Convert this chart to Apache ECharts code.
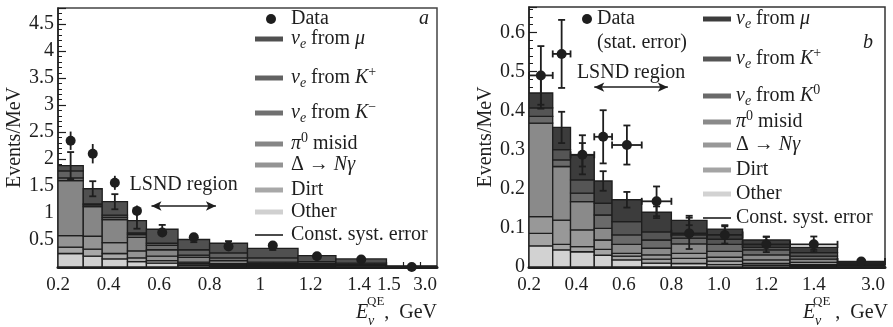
<!DOCTYPE html>
<html>
<head>
<meta charset="utf-8">
<script src="https://cdn.jsdelivr.net/npm/echarts@6/dist/echarts.min.js"></script>
<style>
  html, body { margin: 0; padding: 0; background: #fff; }
  #main { width: 893px; height: 327px; }
</style>
</head>
<body>
<div id="main"></div>
<script>
// bin edges, GeV
const edgesA = [0.2, 0.3, 0.375, 0.475, 0.55, 0.675, 0.8, 0.95, 1.15, 1.3, 1.5, 3.0]
const edgesB = [0.2, 0.3, 0.375, 0.475, 0.55, 0.675, 0.8, 0.95, 1.1, 1.3, 1.5, 3.0]
// x tick labels, GeV
const xLabelsA = [0.2, 0.4, 0.6, 0.8, 1.0, 1.2, 1.4, 1.5, 3.0]
const xLabelsB = [0.2, 0.4, 0.6, 0.8, 1.0, 1.2, 1.4, 3.0]

// panel a, events/MeV per component (bottom -> top)
const otherA = [0.25, 0.20, 0.15, 0.10, 0.07, 0.03, 0.02, 0.01, 0.005, 0.004, 0.001]
const dirtA = [0.12, 0.13, 0.10, 0.07, 0.05, 0.03, 0.02, 0.01, 0.005, 0.004, 0.001]
const deltaA = [0.21, 0.24, 0.20, 0.13, 0.08, 0.03, 0.02, 0.015, 0.01, 0.007, 0.001]
const pi0A = [1.02, 0.55, 0.43, 0.25, 0.12, 0.09, 0.06, 0.025, 0.02, 0.015, 0.002]
const kMinusA = [0.05, 0.03, 0.04, 0.05, 0.08, 0.04, 0.05, 0.03, 0.02, 0.015, 0.003]
const kPlusA = [0.13, 0.02, 0.04, 0.03, 0.04, 0.10, 0.09, 0.08, 0.04, 0.025, 0.004]
const muA = [0.10, 0.28, 0.25, 0.23, 0.26, 0.19, 0.18, 0.175, 0.11, 0.08, 0.008]
const systA = [0.25, 0.14, 0.14, 0.15, 0.08, 0.05, 0.04, 0.03, 0.03, 0.02, 0.01]
const dataA = [2.34, 2.10, 1.56, 1.04, 0.64, 0.55, 0.38, 0.40, 0.20, 0.14, 0.0]
const dataErrA = [0.17, 0.18, 0.13, 0.10, 0.07, 0.05, 0.04, 0.04, 0.03, 0.03, 0.02]

// panel b
const otherB = [0.054, 0.044, 0.039, 0.030, 0.018, 0.010, 0.009, 0.006, 0.004, 0.003, 0.001]
const dirtB = [0.032, 0.014, 0.013, 0.015, 0.010, 0.010, 0.013, 0.009, 0.005, 0.003, 0.001]
const deltaB = [0.043, 0.062, 0.043, 0.024, 0.007, 0.011, 0.013, 0.010, 0.009, 0.006, 0.001]
const pi0B = [0.239, 0.137, 0.072, 0.030, 0.023, 0.017, 0.024, 0.015, 0.013, 0.008, 0.001]
const k0B = [0.017, 0.017, 0.022, 0.034, 0.024, 0.021, 0.015, 0.018, 0.013, 0.008, 0.002]
const kPlusB = [0.022, 0.026, 0.034, 0.030, 0.034, 0.021, 0.008, 0.013, 0.006, 0.009, 0.004]
const muB = [0.038, 0.057, 0.064, 0.057, 0.056, 0.050, 0.037, 0.026, 0.019, 0.013, 0.004]
const systB = [0.04, 0.04, 0.03, 0.025, 0.02, 0.015, 0.012, 0.01, 0.008, 0.006, 0.003]
const dataB = [0.490, 0.545, 0.287, 0.333, 0.312, 0.168, 0.086, 0.082, 0.058, 0.058, 0.014]
const dataErrB = [0.075, 0.087, 0.05, 0.068, 0.05, 0.038, 0.04, 0.022, 0.02, 0.02, 0.005]

// LSND region arrows [from, to, height]
const lsndA = [0.57, 0.825, 1.13]
const lsndB = [0.475, 0.785, 0.46]

const serif = '"Liberation Serif", "DejaVu Serif", serif'
const ink = '#1e1e1e'

// 0.2-1.5 GeV linear, 1.5-3.0 squeezed into the width of 0.2
const disp = (e) => e <= 1.5 ? e : 1.5 + (e - 1.5) / 7.5
const centers = (edges) => edges.slice(1).map((e, i) => (disp(edges[i]) + disp(e)) / 2)

const tickVals = []
for (let k = 5; k <= 30; k++) tickVals.push(k * 0.05)
tickVals.push(disp(2.0), disp(2.5))

function stack(edges, layers) {
  const base = layers[0].map(() => 0)
  return layers.map(vals => vals.map((v, i) => {
    const y0 = base[i]
    base[i] += v
    return [disp(edges[i]), disp(edges[i + 1]), y0, base[i]]
  }))
}

function renderBand(params, api) {
  const p0 = api.coord([api.value(0), api.value(3)])
  const p1 = api.coord([api.value(1), api.value(2)])
  return {
    type: 'rect',
    shape: { x: p0[0], y: p0[1], width: p1[0] - p0[0], height: p1[1] - p0[1] },
    style: { fill: api.visual('color'), stroke: ink, lineWidth: 1.3 }
  }
}

function errRenderer(caps, horiz) {
  return function (params, api) {
    const x = api.value(0), y = api.value(1), e = api.value(2)
    const top = api.coord([x, y + e])
    const bot = api.coord([x, y - e])
    const st = { stroke: ink, lineWidth: 1.8 }
    const c = 3.5
    const kids = [{ type: 'line', shape: { x1: top[0], y1: top[1], x2: bot[0], y2: bot[1] }, style: st }]
    if (caps) {
      kids.push({ type: 'line', shape: { x1: top[0] - c, y1: top[1], x2: top[0] + c, y2: top[1] }, style: st })
      kids.push({ type: 'line', shape: { x1: bot[0] - c, y1: bot[1], x2: bot[0] + c, y2: bot[1] }, style: st })
    }
    if (horiz) {
      const l = api.coord([api.value(3), y])
      const r = api.coord([api.value(4), y])
      kids.push({ type: 'line', shape: { x1: l[0], y1: l[1], x2: r[0], y2: r[1] }, style: st })
      kids.push({ type: 'line', shape: { x1: l[0], y1: l[1] - c, x2: l[0], y2: l[1] + c }, style: st })
      kids.push({ type: 'line', shape: { x1: r[0], y1: r[1] - c, x2: r[0], y2: r[1] + c }, style: st })
    }
    return { type: 'group', children: kids }
  }
}

function panelSeries(p, idx, edges, layers, colors, names, data, dataErr, syst, lsnd, horiz) {
  const bands = stack(edges, layers)
  const mid = centers(edges)
  const totals = bands[bands.length - 1].map(b => b[3])
  const out = bands.map((items, k) => ({
    type: 'custom', name: p + '-' + names[k], xAxisIndex: idx, yAxisIndex: idx,
    itemStyle: { color: colors[k] }, renderItem: renderBand,
    encode: { x: [0, 1], y: [2, 3] }, data: items, clip: true, silent: true
  }))
  out.push({
    type: 'custom', name: p + '-syst', xAxisIndex: idx, yAxisIndex: idx,
    itemStyle: { color: ink }, renderItem: errRenderer(true, false),
    encode: { x: 0, y: 1 }, data: mid.map((x, i) => [x, totals[i], syst[i]]), silent: true
  })
  out.push({
    type: 'custom', name: p + '-dataerr', xAxisIndex: idx, yAxisIndex: idx,
    renderItem: errRenderer(horiz, horiz), encode: { x: 0, y: 1 },
    data: mid.map((x, i) => [x, data[i], dataErr[i], disp(edges[i]), disp(edges[i + 1])]), silent: true
  })
  out.push({
    type: 'scatter', name: p + '-data', xAxisIndex: idx, yAxisIndex: idx,
    symbolSize: 10, itemStyle: { color: ink, opacity: 1 }, silent: true,
    data: mid.map((x, i) => [x, data[i]]),
    markLine: {
      silent: true, symbol: ['arrow', 'arrow'], symbolSize: [7, 10],
      lineStyle: { color: ink, width: 1.5, type: 'solid' },
      label: {
        show: true, position: 'insideMiddleTop', distance: p === 'a' ? 11 : 4,
        formatter: 'LSND region', color: ink, fontFamily: serif, fontSize: 20
      },
      data: [[{ coord: [lsnd[0], lsnd[2]] }, { coord: [lsnd[1], lsnd[2]] }]]
    }
  })
  return out
}

const layerNames = ['other', 'dirt', 'delta', 'pi0', 'k2', 'kplus', 'mu']
const colorsA = ['#d0d0d0', '#a8a8a8', '#949494', '#868686', '#707070', '#626262', '#505050']
const colorsB = ['#d2d2d2', '#a4a4a4', '#989898', '#8a8a8a', '#6a6a6a', '#555555', '#3c3c3c']

const series = [].concat(
  panelSeries('a', 0, edgesA, [otherA, dirtA, deltaA, pi0A, kMinusA, kPlusA, muA], colorsA, layerNames,
    dataA, dataErrA, systA, lsndA, false),
  panelSeries('b', 1, edgesB, [otherB, dirtB, deltaB, pi0B, k0B, kPlusB, muB], colorsB, layerNames,
    dataB, dataErrB, systB, lsndB, true)
)

const legendLabels = {
  data: 'Data',
  mu: '{i|ν}{sub|e} from {i|μ}',
  kplus: '{i|ν}{sub|e} from {i|K}{sup|+}',
  'a-k2': '{i|ν}{sub|e} from {i|K}{sup|−}',
  'b-k2': '{i|ν}{sub|e} from {i|K}{sup|0}',
  pi0: '{i|π}{sup|0} misid',
  delta: 'Δ → {i|Nγ}',
  dirt: 'Dirt',
  other: 'Other',
  syst: 'Const. syst. error'
}
const legendFormatter = (name) => legendLabels[name] || legendLabels[name.slice(2)]
const richText = {
  i: { fontFamily: serif, fontSize: 20, fontStyle: 'italic', color: ink },
  sub: { fontFamily: serif, fontSize: 14, fontStyle: 'italic', padding: [10, 0, 0, 0], color: ink },
  sup: { fontFamily: serif, fontSize: 14, padding: [0, 0, 12, 0], color: ink }
}
const swatch = 'path://M0,0h28v5h-28z'
const thin = 'path://M0,0h28v1.6h-28z'

// one legend box per entry so each row sits where the reference has it
function legendItem(name, left, cy, pad) {
  const isData = name.endsWith('data')
  return {
    left: left, top: cy - 9, orient: 'vertical', padding: 0,
    itemWidth: isData ? 10 : 28, itemHeight: 30, selectedMode: false,
    formatter: legendFormatter,
    textStyle: { fontFamily: serif, fontSize: 20, color: ink, padding: [0, 0, 0, pad], rich: richText },
    data: [{ name: name, icon: isData ? 'circle' : (name.endsWith('syst') ? thin : swatch) }]
  }
}

const xRich = {
  l: { fontFamily: serif, fontSize: 19, color: ink, padding: [0, 4, 0, 0] },
  r: { fontFamily: serif, fontSize: 19, color: ink, padding: [0, 0, 0, 5] }
}

function xAxis(idx, labels, fmt) {
  return {
    type: 'value', gridIndex: idx, min: 0.2, max: 1.7,
    axisLine: { lineStyle: { color: ink, width: 3 } },
    axisTick: { inside: true, length: 5, customValues: tickVals, lineStyle: { color: ink, width: 1.2 } },
    axisLabel: {
      customValues: labels.map(disp), margin: 9, alignMaxLabel: 'right',
      fontFamily: serif, fontSize: 19, color: ink, rich: xRich,
      formatter: (v) => fmt(labels.find(l => Math.abs(disp(l) - v) < 1e-6), labels)
    },
    splitLine: { show: false }
  }
}

function yAxis(idx, max, step, gap, showMin) {
  return {
    type: 'value', gridIndex: idx, min: 0, max: max, interval: step,
    name: 'Events/MeV', nameLocation: 'middle', nameGap: gap,
    nameTextStyle: { fontFamily: serif, fontSize: 20, color: ink },
    axisLine: { show: true, lineStyle: { color: ink, width: 1.5 } },
    axisTick: { inside: true, length: 8, lineStyle: { color: ink, width: 1.2 } },
    minorTick: { show: true, splitNumber: 5, length: 4, lineStyle: { color: ink, width: 1 } },
    axisLabel: {
      margin: 4, showMinLabel: showMin, showMaxLabel: false,
      fontFamily: serif, fontSize: 20, color: ink
    },
    splitLine: { show: false }
  }
}

function axisName(eX, qeX, nuX, right) {
  const t = (text, x, y, font, align) => ({
    type: 'text', x: x, y: y,
    style: { text: text, font: font, fill: ink, align: align || 'left', verticalAlign: 'middle' }
  })
  return [
    t('E', eX, 313, 'italic 20px ' + serif),
    t('QE', qeX, 302, '13px ' + serif),
    t('ν', nuX, 321, 'italic 14px ' + serif),
    t(',  GeV', right, 313, '20px ' + serif, 'right')
  ]
}

// panel a squeezes 1.4 and 1.5 apart a little, as in the reference
const fmtA = (l) => {
  if (l === 1) return '1'
  if (l === 1.4) return '{l|1.4}'
  if (l === 1.5) return '{r|1.5}'
  return l.toFixed(1)
}

const chart = echarts.init(document.getElementById('main'))
chart.setOption({
  animation: false,
  backgroundColor: '#fff',
  grid: [
    { left: 58, top: 8, width: 379, height: 259, show: true, borderColor: '#444', borderWidth: 1.5 },
    { left: 529, top: 7, width: 356, height: 260, show: true, borderColor: '#333', borderWidth: 1.5 }
  ],
  xAxis: [
    xAxis(0, xLabelsA, fmtA),
    xAxis(1, xLabelsB, (l) => l.toFixed(1))
  ],
  yAxis: [
    yAxis(0, 4.8, 0.5, 26, false),
    yAxis(1, 0.665, 0.1, 29, true)
  ],
  legend: [
    legendItem('a-data', 266, 18, 10),
    legendItem('a-mu', 255, 38, 3),
    legendItem('a-kplus', 255, 74, 3),
    legendItem('a-k2', 255, 109, 3),
    legendItem('a-pi0', 255, 140, 3),
    legendItem('a-delta', 255, 164, 3),
    legendItem('a-dirt', 255, 189, 3),
    legendItem('a-other', 255, 211, 3),
    legendItem('a-syst', 255, 234, 3),
    legendItem('b-data', 582, 18, 0),
    legendItem('b-mu', 703, 18, 0),
    legendItem('b-kplus', 703, 55, 0),
    legendItem('b-k2', 703, 92, 0),
    legendItem('b-pi0', 703, 118, 0),
    legendItem('b-delta', 703, 144, 0),
    legendItem('b-dirt', 703, 169, 0),
    legendItem('b-other', 703, 193, 0),
    legendItem('b-syst', 703, 217, 0)
  ],
  graphic: [
    { type: 'text', x: 424, y: 19, style: { text: 'a', font: 'italic 20px ' + serif, fill: ink, align: 'center', verticalAlign: 'middle' } },
    { type: 'text', x: 868, y: 43, style: { text: 'b', font: 'italic 20px ' + serif, fill: ink, align: 'center', verticalAlign: 'middle' } },
    { type: 'text', x: 597, y: 43, style: { text: '(stat. error)', font: '20px ' + serif, fill: ink, align: 'left', verticalAlign: 'middle' } }
  ].concat(axisName(356, 367, 368, 437), axisName(803, 813, 815, 888)),
  series: series
})
</script>
</body>
</html>
